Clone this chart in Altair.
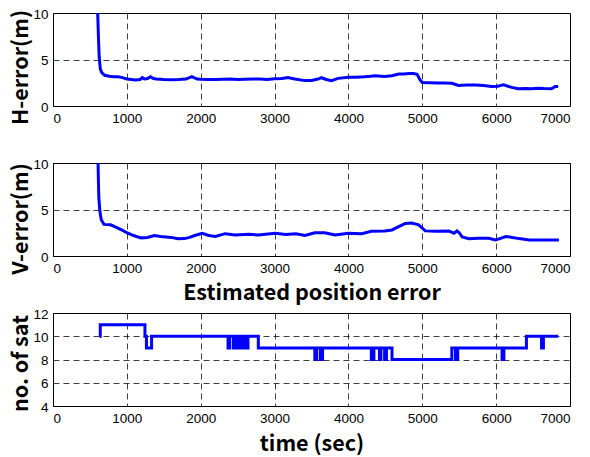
import altair as alt
import pandas as pd

# ---- data ----
H_T = [605, 615, 625, 640, 660, 700, 760, 820, 880, 940, 1000, 1060, 1120, 1180, 1210, 1240,
       1280, 1320, 1360, 1400, 1500, 1600, 1700, 1800, 1880, 1950, 2000, 2100, 2200, 2300,
       2400, 2500, 2600, 2700, 2800, 2900, 3000, 3100, 3180, 3275, 3410, 3500, 3590, 3635,
       3700, 3770, 3860, 4000, 4100, 4220, 4300, 4360, 4490, 4590, 4680, 4750, 4820, 4880,
       4930, 4970, 5000, 5100, 5220, 5300, 5400, 5490, 5600, 5720, 5830, 5940, 6020, 6100,
       6210, 6300, 6400, 6480, 6570, 6650, 6750, 6800, 6840]
H_V = [10.0, 7.5, 5.3, 4.0, 3.6, 3.3, 3.2, 3.15, 3.15, 3.05, 2.9, 2.85, 2.8, 2.85, 3.05, 2.9,
       2.95, 3.15, 2.95, 2.9, 2.85, 2.83, 2.85, 2.9, 3.15, 2.9, 2.87, 2.85, 2.85, 2.88,
       2.9, 2.85, 2.88, 2.9, 2.9, 2.85, 2.94, 2.95, 3.05, 2.9, 2.73, 2.75, 2.9, 3.04,
       2.85, 2.73, 2.97, 3.08, 3.1, 3.15, 3.2, 3.25, 3.18, 3.25, 3.43, 3.45, 3.5, 3.5,
       3.4, 2.8, 2.52, 2.5, 2.48, 2.48, 2.45, 2.2, 2.25, 2.27, 2.2, 2.1, 2.12, 2.27,
       2.0, 1.85, 1.87, 1.85, 1.92, 1.88, 1.85, 2.1, 2.1]

V_T = [610, 615, 621, 635, 653, 690, 780, 850, 930, 1000, 1090, 1190, 1280, 1370, 1460,
       1600, 1690, 1780, 1850, 1920, 2020, 2110, 2200, 2330, 2470, 2650, 2780, 3010, 3150,
       3290, 3410, 3545, 3680, 3820, 4000, 4180, 4310, 4490, 4590, 4680, 4770, 4860, 4950,
       5000, 5040, 5180, 5360, 5430, 5470, 5500, 5540, 5630, 5760, 5900, 5990, 6060, 6130,
       6220, 6310, 6450, 6600, 6850]
V_V = [10.0, 8.0, 6.2, 4.8, 3.9, 3.4, 3.35, 3.1, 2.8, 2.5, 2.2, 1.95, 2.0, 2.2, 2.1,
       2.0, 1.85, 1.87, 2.0, 2.2, 2.45, 2.2, 2.1, 2.4, 2.25, 2.35, 2.25, 2.45, 2.3,
       2.4, 2.2, 2.5, 2.5, 2.25, 2.45, 2.4, 2.65, 2.7, 2.8, 3.15, 3.5, 3.55, 3.35,
       3.0, 2.7, 2.65, 2.7, 2.45, 2.7, 2.5, 2.05, 1.85, 1.9, 1.9, 1.73, 1.9, 2.1,
       2.0, 1.87, 1.73, 1.73, 1.73]

SAT_T = [627, 640, 1245, 1265, 1335, 2370, 2390, 2440, 2455, 2470, 2485, 2500, 2515, 2530,
         2545, 2560, 2575, 2590, 2605, 2620, 2640, 2780, 3545, 3570, 3620, 3650, 4310, 4345,
         4420, 4440, 4490, 4515, 4590, 5400, 5450, 5480, 6080, 6105, 6410, 6615, 6640, 6840]
SAT_V = [10, 11, 10, 9, 10, 9, 10, 9, 10, 9, 10, 9, 10, 9,
         10, 9, 10, 9, 10, 9, 10, 9, 8, 9, 8, 9, 8, 9,
         8, 9, 8, 9, 8, 9, 8, 9, 8, 9, 10, 9, 10, 10]

X_TICKS = [0, 1000, 2000, 3000, 4000, 5000, 6000, 7000]
ERR_TICKS = [0, 5, 10]
SAT_TICKS = [4, 6, 8, 10, 12]

W, HH = 517, 93
LABEL_FONT = "Liberation Sans"
TITLE_FONT = "Noto Sans CJK JP"
TITLE_SIZE = 21.5
BLUE = "#0000ff"


def panel(t, v, ytitle, ydomain, yticks, ytitle_y, xtitle=None, xpad=8, step=False):
    df = pd.DataFrame({"t": t, "v": v})
    mark = alt.Chart(df).mark_line(
        color=BLUE, strokeWidth=3, clip=True,
        interpolate="step-after" if step else "linear",
    )
    xaxis = alt.Axis(values=X_TICKS, format="d", title=xtitle, titleFontSize=TITLE_SIZE,
                     titleFont=TITLE_FONT, titleFontWeight="bold", titlePadding=xpad)
    yaxis = alt.Axis(values=yticks, format="d", title=ytitle, titleFontSize=TITLE_SIZE,
                     titleFont=TITLE_FONT, titleFontWeight="bold", titlePadding=0,
                     titleY=ytitle_y, labelOffset=1)
    return mark.encode(
        x=alt.X("t:Q", scale=alt.Scale(domain=[0, 7000], nice=False, zero=False), axis=xaxis),
        y=alt.Y("v:Q", scale=alt.Scale(domain=ydomain, nice=False, zero=False), axis=yaxis),
    ).properties(width=W, height=HH)


p1 = panel(H_T, H_V, "H-error(m)", [0, 10], ERR_TICKS, 54)
p2 = panel(V_T, V_V, "V-error(m)", [0, 10], ERR_TICKS, 55.5,
           xtitle="Estimated position error", xpad=8)
p3 = panel(SAT_T, SAT_V, "no. of sat", [4, 12], SAT_TICKS, 50,
           xtitle="time (sec)", xpad=9, step=True)

chart = alt.vconcat(p1, p2, p3, spacing=57, bounds="flush").configure_view(
    stroke="black", strokeWidth=1
).configure_axis(
    grid=True, gridDash=[6, 4], gridColor="#000000", gridOpacity=0.75, gridWidth=1,
    domain=False, ticks=False, labelFont=LABEL_FONT, labelFontSize=13.5,
    labelColor="black", labelPadding=5, titleColor="black",
).properties(padding={"left": 2, "top": -2, "right": 5, "bottom": 5})

chart.save("out.html", embed_options={"renderer": "svg", "actions": False})
